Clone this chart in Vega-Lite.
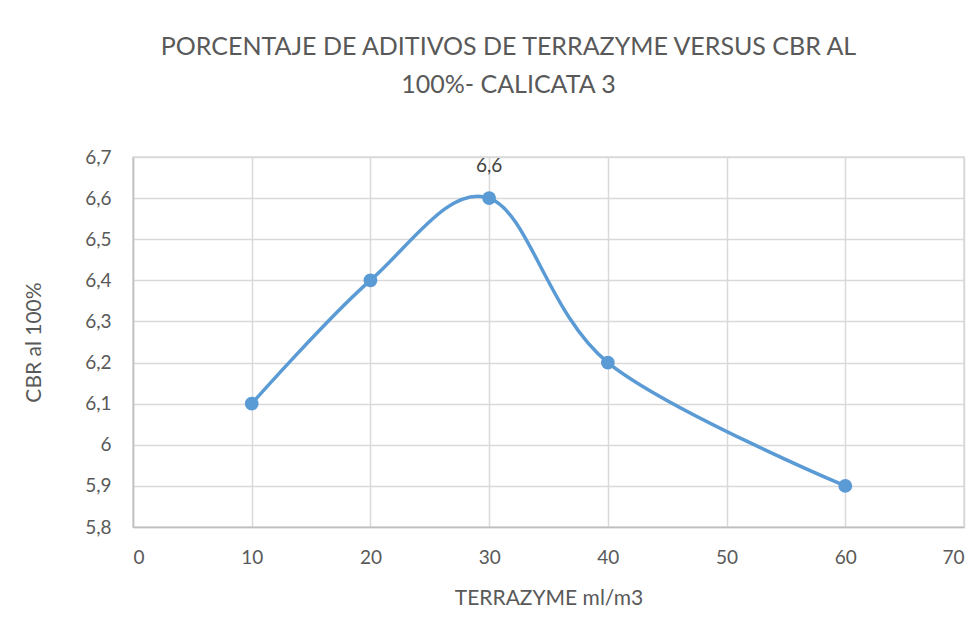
{
  "$schema": "https://vega.github.io/schema/vega-lite/v6.json",
  "width": 831,
  "height": 370,
  "autosize": {"type": "none"},
  "padding": {"left": 133, "top": 157, "right": 16, "bottom": 90},
  "background": "white",
  "config": {
    "font": "Lato",
    "locale": {"number": {"decimal": ",", "thousands": ".", "grouping": [3], "currency": ["", "€"]}},
    "view": {"stroke": "#d9d9d9", "strokeWidth": 1.5},
    "axis": {
      "labelFont": "Lato", "labelFontSize": 19, "labelColor": "#595959",
      "titleFont": "Lato", "titleFontSize": 21, "titleColor": "#595959", "titleFontWeight": "normal",
      "gridColor": "#d9d9d9", "gridWidth": 1.5, "domainColor": "#bfbfbf", "domainWidth": 1.5,
      "ticks": false
    }
  },
  "title": {
    "text": ["PORCENTAJE DE ADITIVOS DE TERRAZYME VERSUS CBR  AL", "100%- CALICATA 3"],
    "font": "Lato", "fontSize": 25, "fontWeight": "normal", "color": "#595959",
    "lineHeight": 38, "anchor": "middle", "frame": "group", "dx": -40, "offset": 50
  },
  "data": {"values": [
    {"x": 10, "y": 6.1},
    {"x": 20, "y": 6.4},
    {"x": 30, "y": 6.6},
    {"x": 40, "y": 6.2},
    {"x": 60, "y": 5.9}
  ]},
  "encoding": {
    "x": {"field": "x", "type": "quantitative",
      "scale": {"domain": [0, 70], "nice": false},
      "axis": {"values": [0,10,20,30,40,50,60,70], "title": "TERRAZYME ml/m3", "labelPadding": 21, "titlePadding": 20}},
    "y": {"field": "y", "type": "quantitative",
      "scale": {"domain": [5.8, 6.7], "nice": false, "zero": false},
      "axis": {"values": [5.8,5.9,6.0,6.1,6.2,6.3,6.4,6.5,6.6,6.7], "title": "CBR al 100%",
        "format": ".2~f", "labelPadding": 22, "titlePadding": 40}}
  },
  "layer": [
    {"mark": {"type": "line", "interpolate": "cardinal", "color": "#5b9bd5", "strokeWidth": 3.5}},
    {"mark": {"type": "point", "filled": true, "opacity": 1, "color": "#5b9bd5", "size": 190}},
    {"transform": [{"filter": "datum.x == 30"}],
     "mark": {"type": "text", "dy": -32, "fontSize": 19, "color": "#404040", "font": "Lato"},
     "encoding": {"text": {"field": "y", "type": "quantitative", "format": ".1f"}}}
  ]
}
